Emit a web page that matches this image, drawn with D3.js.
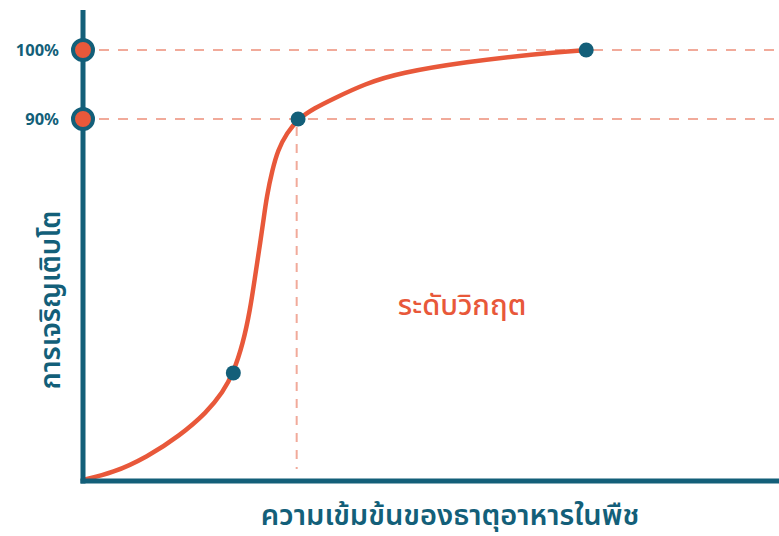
<!DOCTYPE html>
<html>
<head>
<meta charset="utf-8">
<script src="https://cdn.jsdelivr.net/npm/d3@7"></script>
<style>
  html, body { margin: 0; padding: 0; background: #fff; }
  text { font-family: "Noto Sans", "Noto Sans Thai", "Loma", sans-serif; }
</style>
</head>
<body>
<div class="canvas"></div>
<script>
// nutrient concentration (arbitrary units) vs growth (%)
const concentration = [0, 4.3, 9.2, 13.9, 17.8, 20.1, 21.6, 23.0, 24.0, 24.7, 25.3, 25.9, 26.4, 27.2, 28.0, 29.3, 30.9, 33.3, 35.9, 40.5, 45.5, 55.2, 64.7, 72.3];
const growth        = [37.7, 38.7, 41.0, 44.1, 47.5, 50.4, 53.2, 57.5, 62.3, 67.0, 71.0, 75.1, 78.8, 82.6, 85.5, 88.0, 90, 91.6, 92.9, 95.1, 96.7, 98.3, 99.4, 100];
// highlighted points on the curve
const markX = [21.6, 30.9, 72.3];
const markY = [53.2, 90, 100];
const tickValues = [90, 100];
const tickLabels = ["90%", "100%"];
const criticalX = 30.7;

const teal = "#135f79";
const orange = "#e8583a";
const salmon = "#f1aa9a";

const width = 779, height = 536;
const margin = {top: 10, right: 0, bottom: 55, left: 83};
const plotBottom = height - margin.bottom;

const svg = d3.select(".canvas")
  .append("svg")
  .attr("width", width)
  .attr("height", height);

const x = d3.scaleLinear()
  .domain([0, 100])
  .range([margin.left, 779]);

// axis does not start at zero: 90% and 100% sit near the top
const y = d3.scaleLinear()
  .domain([90, 100])
  .range([119, 50]);

const data = concentration.map((c, i) => ({x: c, y: growth[i]}));

// reference lines
svg.selectAll(".hline")
  .data(tickValues)
  .enter()
  .append("line")
  .attr("x1", margin.left + 16)
  .attr("x2", width)
  .attr("y1", d => y(d))
  .attr("y2", d => y(d))
  .attr("stroke", salmon)
  .attr("stroke-width", 2)
  .attr("stroke-dasharray", "10,9");

svg.append("line")
  .attr("x1", x(criticalX))
  .attr("x2", x(criticalX))
  .attr("y1", y(90) + 8)
  .attr("y2", plotBottom - 12)
  .attr("stroke", salmon)
  .attr("stroke-width", 2)
  .attr("stroke-dasharray", "9,8");

// curve (smoothed through the read-off points)
const line = d3.line()
  .x(d => x(d.x))
  .y(d => y(d.y))
  .curve(d3.curveBasis);

svg.append("path")
  .datum(data)
  .attr("d", line)
  .attr("fill", "none")
  .attr("stroke", orange)
  .attr("stroke-width", 4.5)
  .attr("stroke-linecap", "round");

svg.selectAll(".mark")
  .data(markX)
  .enter()
  .append("circle")
  .attr("cx", d => x(d))
  .attr("cy", (d, i) => y(markY[i]))
  .attr("r", 7.5)
  .attr("fill", teal);

// axes
svg.append("line")
  .attr("x1", margin.left).attr("x2", margin.left)
  .attr("y1", margin.top).attr("y2", plotBottom + 2.5)
  .attr("stroke", teal).attr("stroke-width", 5);

svg.append("line")
  .attr("x1", margin.left - 2.5).attr("x2", width)
  .attr("y1", plotBottom).attr("y2", plotBottom)
  .attr("stroke", teal).attr("stroke-width", 5);

// y ticks: orange dots on the axis
svg.selectAll(".tickdot")
  .data(tickValues)
  .enter()
  .append("circle")
  .attr("cx", margin.left)
  .attr("cy", d => y(d))
  .attr("r", 10)
  .attr("fill", orange)
  .attr("stroke", teal)
  .attr("stroke-width", 4);

svg.selectAll(".ticklabel")
  .data(tickValues)
  .enter()
  .append("text")
  .attr("x", 59)
  .attr("y", d => y(d))
  .attr("dy", "0.35em")
  .attr("text-anchor", "end")
  .attr("fill", teal)
  .attr("font-size", 16.5)
  .attr("font-weight", 700)
  .text((d, i) => tickLabels[i]);

// labels
svg.append("text")
  .attr("transform", `translate(60,${300}) rotate(-90)`)
  .attr("text-anchor", "middle")
  .attr("fill", teal)
  .attr("font-size", 28)
  .attr("font-weight", 600)
  .text("การเจริญเติบโต");

svg.append("text")
  .attr("x", 450)
  .attr("y", 525)
  .attr("text-anchor", "middle")
  .attr("fill", teal)
  .attr("font-size", 29)
  .attr("font-weight", 600)
  .text("ความเข้มข้นของธาตุอาหารในพืช");

svg.append("text")
  .attr("x", 462)
  .attr("y", 315)
  .attr("text-anchor", "middle")
  .attr("fill", orange)
  .attr("font-size", 29)
  .attr("font-weight", 500)
  .text("ระดับวิกฤต");
</script>
</body>
</html>
